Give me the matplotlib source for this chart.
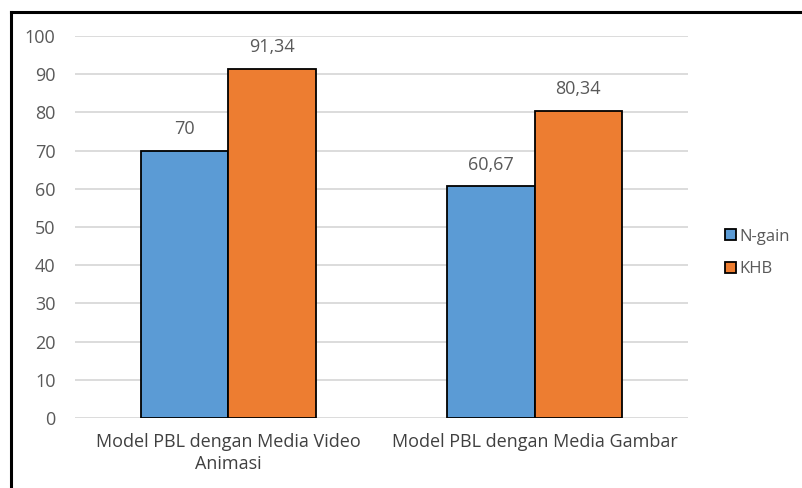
import matplotlib
matplotlib.use("Agg")
import matplotlib.pyplot as plt
from matplotlib.patches import Patch
from matplotlib.lines import Line2D
import numpy as np

# data
categories = ["Model PBL dengan Media Video\nAnimasi", "Model PBL dengan Media Gambar"]
n_gain = [70, 60.67]
khb = [91.34, 80.34]
series_names = ["N-gain", "KHB"]
label_text_ngain = ["70", "60,67"]
label_text_khb = ["91,34", "80,34"]

blue = "#5B9BD5"
orange = "#ED7D31"
grey = "#595959"

plt.rcParams["font.family"] = ["Open Sans", "DejaVu Sans"]

fig = plt.figure(figsize=(8.03, 4.88), dpi=100)
ax = fig.add_axes([75 / 803, 1 - 418 / 488, (688 - 75) / 803, (418 - 36) / 488])

x = np.arange(len(categories))
w = 0.285
b1 = ax.bar(x - w / 2, n_gain, w, color=blue, edgecolor="black", linewidth=1.3, zorder=3)
b2 = ax.bar(x + w / 2, khb, w, color=orange, edgecolor="black", linewidth=1.3, zorder=3)

for rect, t in zip(b1, label_text_ngain):
    ax.text(rect.get_x() + rect.get_width() / 2, rect.get_height() + 3.3, t,
            ha="center", va="bottom", fontsize=13, color=grey)
for rect, t in zip(b2, label_text_khb):
    ax.text(rect.get_x() + rect.get_width() / 2, rect.get_height() + 3.3, t,
            ha="center", va="bottom", fontsize=13, color=grey)

ax.set_xlim(-0.5, 1.5)
ax.set_ylim(0, 100)
ax.set_yticks(range(0, 101, 10))
ax.set_xticks(x)
ax.set_xticklabels(categories, fontsize=13, color="#404040", linespacing=1.3)
ax.tick_params(axis="y", labelsize=13, labelcolor=grey, length=0, pad=14)
ax.tick_params(axis="x", length=0, pad=11)
ax.yaxis.grid(True, color="#D9D9D9", linewidth=1.3, zorder=0)
for s in ax.spines.values():
    s.set_visible(False)

handles = [Patch(facecolor=blue, edgecolor="black", linewidth=1.3),
           Patch(facecolor=orange, edgecolor="black", linewidth=1.3)]
fig.legend(handles, series_names, loc="center left", bbox_to_anchor=(710 / 803, 1 - 253 / 488),
           frameon=False, fontsize=12, labelcolor=grey, handlelength=0.65, handleheight=0.65,
           handletextpad=0.2, labelspacing=1.0)

# outer frame (top and left edges only)
fig.add_artist(Line2D([11 / 803, 1.0], [1 - 12 / 488, 1 - 12 / 488], color="black", linewidth=2.2))
fig.add_artist(Line2D([11 / 803, 11 / 803], [0, 1 - 12 / 488], color="black", linewidth=2.2))

fig.savefig("out.png", dpi=100)
